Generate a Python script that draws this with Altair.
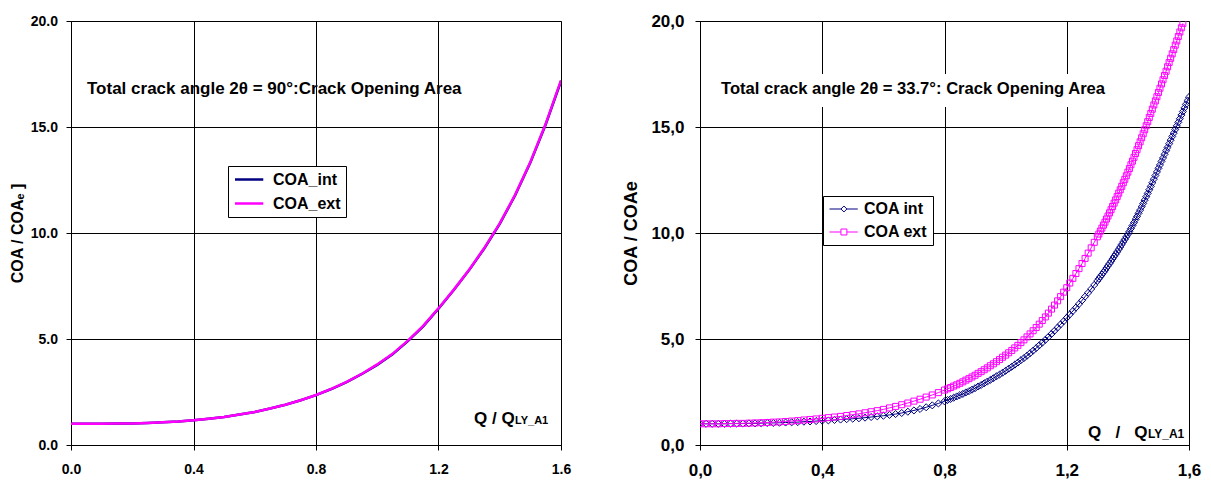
import altair as alt
import pandas as pd

FONT = "Liberation Sans"
NAVY = "#000080"
MAGENTA = "#FF00FF"

# ---------------- left panel (2θ = 90°) ----------------
q_left = [0.00, 0.05, 0.10, 0.15, 0.20, 0.25, 0.30, 0.35, 0.40, 0.45, 0.50,
          0.55, 0.60, 0.65, 0.70, 0.75, 0.80, 0.85, 0.90, 0.95, 1.00, 1.05,
          1.10, 1.15, 1.20, 1.25, 1.30, 1.35, 1.40, 1.45, 1.50, 1.55, 1.60]
coa_int_left = [1.00, 1.00, 1.00, 1.01, 1.02, 1.04, 1.07, 1.11, 1.17, 1.24, 1.32,
                1.44, 1.56, 1.72, 1.90, 2.11, 2.35, 2.64, 2.97, 3.35, 3.78, 4.28,
                4.90, 5.60, 6.43, 7.31, 8.25, 9.28, 10.43, 11.77, 13.32, 15.12, 17.16]
coa_ext_left = [1.00, 1.00, 1.00, 1.01, 1.02, 1.04, 1.07, 1.11, 1.17, 1.24, 1.32,
                1.44, 1.56, 1.72, 1.90, 2.11, 2.36, 2.65, 2.98, 3.36, 3.80, 4.30,
                4.92, 5.62, 6.45, 7.33, 8.27, 9.30, 10.45, 11.80, 13.35, 15.15, 17.20]

# ---------------- right panel (2θ = 33.7°) ----------------
# sample positions (denser where the curves are steep, as in the source data)
q_right_a = [0.00, 0.02, 0.04, 0.06, 0.08, 0.10, 0.12, 0.14, 0.16, 0.18,
             0.20, 0.22, 0.24, 0.26, 0.28, 0.30, 0.32, 0.34, 0.36, 0.38,
             0.40, 0.42, 0.44, 0.46, 0.48, 0.50, 0.52, 0.54, 0.56, 0.58,
             0.60, 0.62, 0.64, 0.66, 0.68, 0.70, 0.72, 0.74, 0.76, 0.78]
q_right_b = [0.80, 0.81, 0.82, 0.83, 0.84, 0.85, 0.86, 0.87, 0.88, 0.89,
             0.90, 0.91, 0.92, 0.93, 0.94, 0.95, 0.96, 0.97, 0.98, 0.99,
             1.00, 1.01, 1.02, 1.03, 1.04, 1.05, 1.06, 1.07, 1.08, 1.09,
             1.10, 1.11, 1.12, 1.13, 1.14, 1.15, 1.16, 1.17, 1.18, 1.19,
             1.20, 1.21, 1.22, 1.23, 1.24, 1.25, 1.26, 1.27, 1.28, 1.29]
q_right_c = [1.300, 1.305, 1.310, 1.315, 1.320, 1.325, 1.330, 1.335, 1.340, 1.345,
             1.350, 1.355, 1.360, 1.365, 1.370, 1.375, 1.380, 1.385, 1.390, 1.395,
             1.400, 1.405, 1.410, 1.415, 1.420, 1.425, 1.430, 1.435, 1.440, 1.445,
             1.450, 1.455, 1.460, 1.465, 1.470, 1.475, 1.480, 1.485, 1.490, 1.495,
             1.500, 1.505, 1.510, 1.515, 1.520, 1.525, 1.530, 1.535, 1.540, 1.545,
             1.550, 1.555, 1.560, 1.565, 1.570, 1.575, 1.580, 1.585, 1.590, 1.595,
             1.600]

coa_int_right_a = [1.00, 1.00, 1.00, 1.00, 1.00, 1.01, 1.01, 1.01, 1.02, 1.02,
                   1.03, 1.04, 1.04, 1.05, 1.06, 1.07, 1.08, 1.10, 1.11, 1.13,
                   1.15, 1.16, 1.18, 1.20, 1.22, 1.24, 1.26, 1.29, 1.32, 1.35,
                   1.38, 1.42, 1.46, 1.51, 1.57, 1.63, 1.70, 1.78, 1.87, 1.96]
coa_int_right_b = [2.06, 2.12, 2.17, 2.23, 2.29, 2.35, 2.41, 2.48, 2.54, 2.61,
                   2.68, 2.76, 2.83, 2.91, 2.99, 3.07, 3.15, 3.24, 3.32, 3.41,
                   3.50, 3.60, 3.69, 3.79, 3.89, 4.00, 4.10, 4.21, 4.33, 4.45,
                   4.57, 4.70, 4.83, 4.96, 5.10, 5.24, 5.39, 5.54, 5.69, 5.84,
                   6.00, 6.16, 6.32, 6.48, 6.65, 6.82, 7.00, 7.18, 7.36, 7.55]
coa_int_right_c = [7.74, 7.84, 7.94, 8.04, 8.14, 8.24, 8.35, 8.45, 8.56, 8.67,
                   8.78, 8.89, 9.00, 9.11, 9.23, 9.34, 9.46, 9.58, 9.70, 9.82,
                   9.94, 10.07, 10.21, 10.35, 10.49, 10.64, 10.78, 10.93, 11.08, 11.24,
                   11.39, 11.55, 11.71, 11.87, 12.04, 12.20, 12.37, 12.54, 12.71, 12.88,
                   13.05, 13.21, 13.38, 13.54, 13.71, 13.88, 14.04, 14.21, 14.38, 14.55,
                   14.71, 14.88, 15.05, 15.22, 15.39, 15.56, 15.73, 15.90, 16.07, 16.24,
                   16.41]

coa_ext_right_a = [1.00, 1.00, 1.00, 1.00, 1.01, 1.01, 1.02, 1.02, 1.03, 1.04,
                   1.05, 1.06, 1.08, 1.09, 1.11, 1.13, 1.15, 1.18, 1.20, 1.23,
                   1.26, 1.29, 1.32, 1.35, 1.39, 1.43, 1.47, 1.52, 1.57, 1.62,
                   1.68, 1.75, 1.82, 1.90, 1.98, 2.07, 2.16, 2.26, 2.36, 2.47]
coa_ext_right_b = [2.59, 2.65, 2.71, 2.78, 2.84, 2.91, 2.98, 3.06, 3.13, 3.21,
                   3.29, 3.38, 3.46, 3.55, 3.64, 3.74, 3.83, 3.93, 4.03, 4.14,
                   4.24, 4.35, 4.46, 4.58, 4.70, 4.83, 4.96, 5.10, 5.24, 5.39,
                   5.54, 5.70, 5.87, 6.04, 6.22, 6.41, 6.60, 6.80, 7.00, 7.21,
                   7.42, 7.64, 7.86, 8.09, 8.32, 8.56, 8.80, 9.05, 9.30, 9.56]
coa_ext_right_c = [9.82, 9.95, 10.09, 10.23, 10.37, 10.51, 10.66, 10.80, 10.95, 11.10,
                   11.25, 11.41, 11.56, 11.72, 11.88, 12.04, 12.20, 12.37, 12.53, 12.70,
                   12.87, 13.04, 13.22, 13.39, 13.57, 13.75, 13.93, 14.12, 14.30, 14.49,
                   14.68, 14.87, 15.06, 15.25, 15.45, 15.64, 15.84, 16.04, 16.23, 16.43,
                   16.63, 16.83, 17.03, 17.23, 17.43, 17.63, 17.84, 18.04, 18.24, 18.45,
                   18.65, 18.86, 19.06, 19.27, 19.48, 19.68, 19.89]

x_ticks = [0.0, 0.4, 0.8, 1.2, 1.6]
y_ticks = [0, 5, 10, 15, 20]

series_left = ["COA_int", "COA_ext"]
series_right = ["COA int", "COA ext"]
title_left = "Total crack angle 2θ = 90°:Crack Opening Area"
title_right = "Total crack angle 2θ = 33.7°: Crack Opening Area"
ytitle_left = "COA / COAₑ ]"
ytitle_right = "COA / COAe"
xlab_main_left = "Q / Q"
xlab_main_right = "Q\u00a0\u00a0\u00a0/\u00a0\u00a0\u00a0Q"
xlab_sub = "LY_A1"

W_L, W_R, H = 490, 489, 424

left_int = pd.DataFrame({"q": q_left, "coa": coa_int_left, "series": series_left[0]})
left_ext = pd.DataFrame({"q": q_left, "coa": coa_ext_left, "series": series_left[1]})

q_int_r = q_right_a + q_right_b + q_right_c
c_int_r = coa_int_right_a + coa_int_right_b + coa_int_right_c
c_ext_r = coa_ext_right_a + coa_ext_right_b + coa_ext_right_c
q_ext_r = (q_right_a + q_right_b + q_right_c)[:len(c_ext_r)]
right_int = pd.DataFrame({"q": q_int_r, "coa": c_int_r, "series": series_right[0]})
right_ext = pd.DataFrame({"q": q_ext_r, "coa": c_ext_r, "series": series_right[1]})
right_all = pd.concat([right_int, right_ext], ignore_index=True)

COMMA = "replace(format(datum.value, '.1f'), '.', ',')"


def make_axis(size, comma, pad, title=None, tsize=16, tpad=5):
    kw = dict(labelFont=FONT, labelFontSize=size, labelFontWeight="bold",
              labelColor="black", domainColor="black", domainWidth=1, tickColor="black",
              tickSize=5, tickWidth=1, labelPadding=pad, labelFlush=False,
              labelOverlap=False, grid=True, gridColor="#000000", gridOpacity=1,
              gridWidth=1)
    if comma:
        kw["labelExpr"] = COMMA
    else:
        kw["format"] = ".1f"
    if title is None:
        kw["title"] = None
    else:
        kw.update(title=title, titleFont=FONT, titleFontSize=tsize,
                  titleFontWeight="bold", titleColor="black", titlePadding=tpad)
    return kw


def x_enc(size, comma):
    kw = make_axis(size, comma, 12)
    kw["values"] = x_ticks
    return alt.X("q:Q", scale=alt.Scale(domain=[0, 1.6], nice=False, zero=False),
                 axis=alt.Axis(**kw))


def y_enc(size, comma, pad, title, tsize, tpad):
    kw = make_axis(size, comma, pad, title, tsize, tpad)
    kw["values"] = y_ticks
    return alt.Y("coa:Q", scale=alt.Scale(domain=[0, 20], nice=False),
                 axis=alt.Axis(**kw))


def text_layer(txt, x, y, size, baseline="middle"):
    return alt.Chart(pd.DataFrame({"t": [txt]})).mark_text(
        align="left", baseline=baseline, font=FONT, fontSize=size,
        fontWeight="bold", color="black"
    ).encode(x=alt.value(x), y=alt.value(y), text="t:N")


# ---------------- left chart ----------------
xl = x_enc(14, False)
yl = y_enc(14, False, 8.5, ytitle_left, 16, 5)
scale_l = alt.Scale(domain=series_left, range=[NAVY, MAGENTA])
legend_l = alt.Legend(orient="none", legendX=157, legendY=145, title=None,
                      symbolType="M-0.92,0H3.08", symbolSize=200, symbolStrokeWidth=2.5,
                      labelFont=FONT, labelFontSize=16, labelFontWeight="bold",
                      labelColor="black", strokeColor="black", fillColor="white",
                      padding=5, rowPadding=7, labelOffset=23)

line_int_l = alt.Chart(left_int).mark_line(strokeWidth=2.5, clip=True).encode(
    x=xl, y=yl, color=alt.Color("series:N", scale=scale_l, legend=legend_l))
line_ext_l = alt.Chart(left_ext).mark_line(strokeWidth=2.5, clip=True).encode(
    x=xl, y=yl, color=alt.Color("series:N", scale=scale_l, legend=None))

left = alt.layer(
    line_int_l, line_ext_l,
    text_layer(title_left, 16, 68, 17),
    text_layer(xlab_main_left, 403, 403, 17, "alphabetic"),
    text_layer(xlab_sub, 444, 403, 11, "alphabetic"),
).properties(width=W_L, height=H)

# ---------------- right chart ----------------
xr = x_enc(17, True)
yr = y_enc(17, True, 11, ytitle_right, 18, 10)
scale_r = alt.Scale(domain=series_right, range=[NAVY, MAGENTA])
diamond_path = "M-0.92,0H0.70M1.54,0H3.08M0.70,0L1.12,-0.42L1.54,0L1.12,0.42Z"
square_path = "M-0.92,0H0.70M1.54,0H3.08M0.70,-0.42H1.54V0.42H0.70Z"
legend_r = alt.Legend(orient="none", legendX=123, legendY=175, title=None,
                      symbolSize=200, symbolStrokeWidth=1, symbolOpacity=1,
                      labelFont=FONT, labelFontSize=16, labelFontWeight="bold",
                      labelColor="black", strokeColor="black", fillColor="white",
                      padding=5, rowPadding=7, labelOffset=20,
                      labelExpr="datum.label == 'COA ext' ? '\u00a0COA ext' : datum.label")
color_r = alt.Color("series:N", scale=scale_r, legend=None)

legend_helper = alt.Chart(right_all).mark_point(
    filled=False, opacity=0, strokeWidth=1
).encode(
    x=xr, y=yr,
    color=alt.Color("series:N", scale=scale_r, legend=legend_r),
    shape=alt.Shape("series:N", scale=alt.Scale(domain=series_right,
                                                range=[diamond_path, square_path]),
                    legend=legend_r),
)
title_bg = alt.Chart(pd.DataFrame({"t": [0]})).mark_rect(color="white").encode(
    x=alt.value(15), x2=alt.value(415), y=alt.value(53), y2=alt.value(86))
line_int_r = alt.Chart(right_int).mark_line(strokeWidth=1, clip=True).encode(
    x=xr, y=yr, color=color_r)
pts_int_r = alt.Chart(right_int).mark_point(
    shape="diamond", filled=False, size=50, strokeWidth=1, opacity=1, clip=True
).encode(x=xr, y=yr, color=color_r)
line_ext_r = alt.Chart(right_ext).mark_line(strokeWidth=1, clip=True).encode(
    x=xr, y=yr, color=color_r)
pts_ext_r = alt.Chart(right_ext).mark_point(
    shape="square", filled=False, size=36, strokeWidth=1, opacity=1, clip=True
).encode(x=xr, y=yr, color=color_r)

right = alt.layer(
    legend_helper, title_bg, line_int_r, pts_int_r, line_ext_r, pts_ext_r,
    text_layer(title_right, 21, 68, 16.6),
    text_layer(xlab_main_right, 388, 417, 17, "alphabetic"),
    text_layer(xlab_sub, 448, 417, 12, "alphabetic"),
).properties(width=W_R, height=H)

chart = alt.hconcat(left, right, spacing=50).resolve_scale(
    color="independent", shape="independent"
).configure_view(stroke="#808080", strokeWidth=1).properties(
    padding={"left": 0, "top": 3, "right": 0, "bottom": 0},
    background="white",
)

chart.save("out.html", embed_options={"renderer": "svg", "actions": False})
